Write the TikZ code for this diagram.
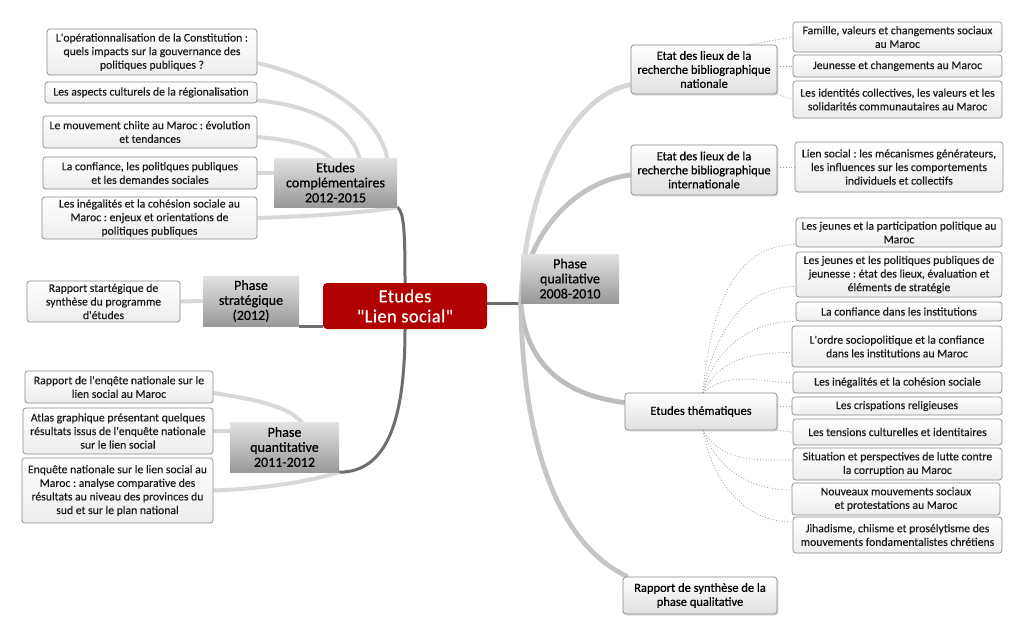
\documentclass[tikz,border=0pt]{standalone}
\usepackage{fontspec}
\setmainfont{Carlito}
\newfontfamily\leaffont[FakeBold=0.25]{Carlito}
\newfontfamily\topicfont[FakeBold=0.5]{Carlito}
\newfontfamily\phasefont[FakeBold=0.6]{Carlito}
\newfontfamily\hubfont[FakeBold=0.4,LetterSpace=2]{Carlito}
\usetikzlibrary{shadows,backgrounds,calc}
\definecolor{hubred}{HTML}{B00000}
\definecolor{leafborder}{HTML}{8A8A8A}
\definecolor{leafbottom}{HTML}{EDEDED}
\definecolor{leaftext}{HTML}{1A1A1A}
\definecolor{topicborder}{HTML}{858585}
\definecolor{topicbottom}{HTML}{E0E0E0}
\definecolor{phasetop}{HTML}{E2E2E2}
\definecolor{phasebottom}{HTML}{999999}
\definecolor{trunkgray}{HTML}{6E6E6E}
\definecolor{limbA}{HTML}{D6D6D6}
\definecolor{limbB}{HTML}{C2C2C2}
\definecolor{limbC}{HTML}{BDBDBD}
\definecolor{limbD}{HTML}{C6C6C6}
\definecolor{twiggray}{HTML}{D8D8D8}
\definecolor{dotgray}{HTML}{9A9A9A}
\tikzset{
  sz/.style 2 args={minimum width=#1pt, minimum height=#2pt},
  leaf/.style={draw=leafborder, line width=0.7pt, rounded corners=3pt, top color=white, bottom color=leafbottom, inner sep=0pt, align=center, font=\leaffont\fontsize{11.7}{13.6}\selectfont\frenchspacing, text=leaftext},
  topic/.style={leaf, draw=topicborder, bottom color=topicbottom, font=\topicfont\fontsize{12.5}{14}\selectfont\frenchspacing, text=black, drop shadow={opacity=0.22, shadow xshift=1.5pt, shadow yshift=-1.5pt}},
  phase/.style={inner sep=0pt, align=center, top color=phasetop, bottom color=phasebottom, font=\phasefont\fontsize{14}{15}\selectfont, text=black},
  hub/.style={fill=hubred, rounded corners=4pt, inner sep=0pt, align=center, text=white, font=\hubfont\fontsize{18.5}{20}\selectfont},
  trunk/.style={draw=trunkgray, line width=3pt},
  limb/.style={line width=4.8pt},
  twig/.style={draw=twiggray, line width=4pt},
  dots/.style={draw=dotgray, dotted, line width=0.8pt},
}
\begin{document}
\begin{tikzpicture}[x=1pt,y=-1pt]
\useasboundingbox (0,0) rectangle (1024,635);

% hub and phases
\node[hub, sz={164}{46}] (center) at (405,306) {Etudes\\"Lien social"};
\node[phase, sz={98}{49}] (qual) at (570,278.5) {Phase\\qualitative\\2008-2010};
\node[phase, sz={123}{49}] (compl) at (335.5,182.5) {Etudes\\complémentaires\\2012-2015};
\node[phase, sz={96}{50}] (strat) at (251,301) {Phase\\stratégique\\(2012)};
\node[phase, sz={109}{50}] (quant) at (284.5,447) {Phase\\quantitative\\2011-2012};

% qualitative topics
\node[topic, sz={146}{49}] (nat) at (704,69.5) {Etat des lieux de la\\recherche bibliographique\\nationale};
\node[topic, sz={146}{50}] (int) at (704,170) {Etat des lieux de la\\recherche bibliographique\\internationale};
\node[topic, sz={152}{37}] (them) at (701,411.5) {Etudes thématiques};
\node[topic, sz={154}{37}] (synth) at (700,595.5) {Rapport de synthèse de la\\phase qualitative};

% right leaves
\node[leaf, sz={209}{30}] (fam) at (897.5,37) {Famille, valeurs et changements sociaux\\au Maroc};
\node[leaf, sz={209}{22}] (jeu) at (897.5,66) {Jeunesse et changements au Maroc};
\node[leaf, sz={209}{37}] (ident) at (897.5,99.5) {Les identités collectives, les valeurs et les\\solidarités communautaires au Maroc};
\node[leaf, sz={208}{50}] (lien) at (899,167) {Lien social : les mécanismes générateurs,\\les influences sur les comportements\\individuels et collectifs};
\node[leaf, sz={206}{29}] (jp) at (899,232.5) {Les jeunes et la participation politique au\\Maroc};
\node[leaf, sz={206}{45}] (jpp) at (899,274.5) {Les jeunes et les politiques publiques de\\jeunesse : état des lieux, évaluation et\\éléments de stratégie};
\node[leaf, sz={206}{19}] (conf) at (899,311.5) {La confiance dans les institutions};
\node[leaf, sz={210}{41}] (ordre) at (897,346.5) {L'ordre sociopolitique et la confiance\\dans les institutions au Maroc};
\node[leaf, sz={209}{21}] (ineg) at (897.5,382.5) {Les inégalités et la cohésion sociale};
\node[leaf, sz={210}{18}] (crisp) at (897,406) {Les crispations religieuses};
\node[leaf, sz={209}{26}] (tens) at (897.5,432) {Les tensions culturelles et identitaires};
\node[leaf, sz={209}{32}] (situ) at (897.5,464) {Situation et perspectives de lutte contre\\la corruption au Maroc};
\node[leaf, sz={208}{32}] (nouv) at (896,499) {Nouveaux mouvements sociaux\\et protestations au Maroc};
\node[leaf, sz={209}{36}] (jihad) at (897.5,535) {Jihadisme, chiisme et prosélytisme des\\mouvements fondamentalistes chrétiens};

% left leaves
\node[leaf, sz={210}{46}] (c1) at (152,52) {L'opérationnalisation de la Constitution :\\quels impacts sur la gouvernance des\\politiques publiques ?};
\node[leaf, sz={212}{21}] (c2) at (151,92.5) {Les aspects culturels de la régionalisation};
\node[leaf, sz={214}{32}] (c3) at (150,132) {Le mouvement chiite au Maroc : évolution\\et tendances};
\node[leaf, sz={214}{32}] (c4) at (150,173) {La confiance, les politiques publiques\\et les demandes sociales};
\node[leaf, sz={215}{42}] (c5) at (149.5,218) {Les inégalités et la cohésion sociale au\\Maroc : enjeux et orientations de\\politiques publiques};
\node[leaf, sz={153}{41}] (s1) at (103.5,301.5) {Rapport startégique de\\synthèse du programme\\d'études};
\node[leaf, sz={188}{32}] (q1) at (119,387) {Rapport de l'enqête nationale sur le\\lien social au Maroc};
\node[leaf, sz={190}{46}] (q2) at (118,431) {Atlas graphique présentant quelques\\résultats issus de l'enquête nationale\\sur le lien social};
\node[leaf, sz={191}{65}] (q3) at (117.5,490.5) {Enquête nationale sur le lien social au\\Maroc : analyse comparative des\\résultats au niveau des provinces du\\sud et sur le plan national};

\begin{scope}[on background layer]
\fill[white] (0,0) rectangle (1024,635);
% trunk connectors from the hub
\draw[trunk] (center.north) .. controls (405,230) and (404,212) .. (compl.south east);
\draw[trunk] (center.south) .. controls (405,425) and (385,472) .. (quant.south east);
\draw[trunk] (strat.south east) -- (strat.south east -| center.west);
\draw[trunk] (center.east |- qual.south west) -- (qual.south west);

% qualitative limbs
\draw[limb, draw=limbA] (qual.south west) .. controls (525,180) and (575,95) .. ($(nat.west)+(0,15)$);
\draw[limb, draw=limbB] (qual.south west) .. controls (525,230) and (580,180) .. ($(int.west)+(0,5)$);
\draw[limb, draw=limbC] (qual.south west) .. controls (525,360) and (560,395) .. ($(them.west)+(0,-9)$);
\draw[limb, draw=limbD] (qual.south west) .. controls (523,450) and (560,545) .. ($(synth.north west)+(5,0)$);

% complementary studies
\draw[twig] ($(c1.east)+(0,11)$) .. controls (330,80) and (385,120) .. ($(compl.north east)+(-9,8)$);
\draw[twig] ($(c2.east)+(0,8)$) .. controls (310,105) and (355,125) .. ($(compl.north)+(25,6)$);
\draw[twig] ($(c3.east)+(0,5)$) .. controls (295,140) and (325,148) .. ($(compl.north)+(0,6)$);
\draw[twig] (c4.east) -- (c4.east -| compl.west);
\draw[twig] (c5.east) .. controls (320,216) and (370,212) .. (compl.south east);

% strategic
\draw[twig] (s1.east) -- (strat.west);

% quantitative
\draw[twig] ($(q1.east)+(0,6)$) .. controls (260,400) and (295,408) .. ($(quant.north)+(20,5)$);
\draw[twig] (q2.east) -- (quant.west |- q2.east);
\draw[twig] (q3.east) .. controls (280,488) and (320,478) .. (quant.south east);

% dotted sub-branches
\draw[dots] ($(nat.north east)+(-27,0)$) -- (fam.west);
\draw[dots] (nat.east |- jeu.west) -- (jeu.west);
\draw[dots] (nat.south east) -- (ident.west);
\draw[dots] (int.east |- lien.west) -- (lien.west);

\draw[dots] ($(them.north)+(2,0)$) to[out=85,in=180] ($(jp.west)+(0,12)$);
\draw[dots] ($(them.north)+(2,0)$) to[out=80,in=180] ($(jpp.west)+(0,12)$);
\draw[dots] ($(them.north)+(2,0)$) to[out=75,in=180] (conf.south west);
\draw[dots] ($(them.north)+(2,0)$) to[out=65,in=180] ($(ordre.west)+(0,6)$);
\draw[dots] ($(them.north)+(2,0)$) to[out=40,in=180] (ineg.west);
\draw[dots] (them.east |- crisp.west) -- (crisp.west);
\draw[dots] (them.south east) -- (tens.west);
\draw[dots] ($(them.south)+(2,0)$) to[out=-60,in=180] ($(situ.west)+(0,-4)$);
\draw[dots] ($(them.south)+(2,0)$) to[out=-70,in=180] ($(nouv.west)+(0,-9)$);
\draw[dots] ($(them.south)+(2,0)$) to[out=-80,in=180] ($(jihad.west)+(0,-13)$);
\end{scope}
\end{tikzpicture}
\end{document}
